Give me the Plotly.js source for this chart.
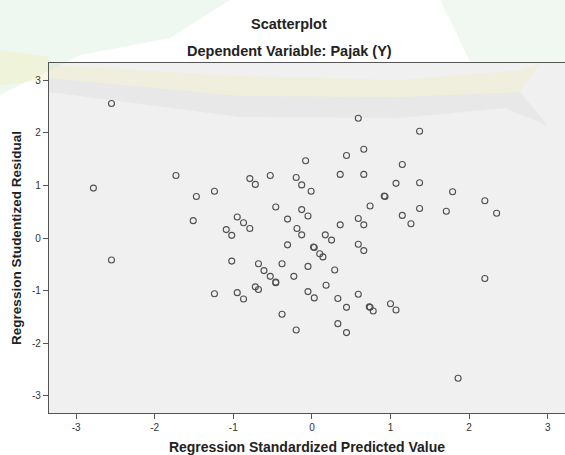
<!DOCTYPE html>
<html>
<head>
<meta charset="utf-8">
<script src="https://cdn.plot.ly/plotly-3.0.1.min.js"></script>
<style>
  html, body { margin: 0; padding: 0; background: #ffffff; }
  #chart { width: 565px; height: 455px; }
</style>
</head>
<body>
<div id="chart"></div>
<script>
// Regression Standardized Predicted Value
const predicted = [
  -2.55, -2.78, -1.73, -1.47, -1.24, -1.51, -0.95, -1.09, -1.02,
   0.59,  0.66,  0.44, -0.08,  1.15, -0.79, -0.72, -0.53, -0.20,
  -0.13, -0.01,  0.36,  0.66,  1.07,  0.92,  0.74, -0.46, -0.13,
  -0.05, -0.31, -0.19, -0.13,  0.36,  0.59,  0.66,  0.17,  0.25,
  -0.87, -0.79,  1.15,  1.37,  1.37,  1.79,  2.20,  2.35,  1.37,
   1.71,  1.26,  2.20,  1.86, -2.55, -1.02, -1.24, -0.95, -0.31,
   0.03,  0.10,  0.14,  0.59,  0.66, -0.68, -0.61, -0.53, -0.46,
  -0.38, -0.23, -0.05,  0.29,  0.18, -0.05,  0.03,  0.33,  0.59,
   0.44,  0.74,  0.78,  1.00,  1.07, -0.72, -0.68, -0.87, -0.38,
  -0.20,  0.33,  0.44,  0.93,  0.02, -0.46,  0.73
];
// Regression Studentized Residual
const residual = [
   2.56,  0.95,  1.19,  0.79,  0.89,  0.33,  0.40,  0.16,  0.05,
   2.28,  1.69,  1.57,  1.47,  1.40,  1.13,  1.02,  1.19,  1.15,
   1.01,  0.89,  1.21,  1.21,  1.04,  0.80,  0.61,  0.59,  0.54,
   0.42,  0.36,  0.18,  0.06,  0.25,  0.37,  0.25,  0.06, -0.04,
   0.29,  0.18,  0.43,  2.03,  1.05,  0.88,  0.71,  0.47,  0.56,
   0.51,  0.27, -0.77, -2.67, -0.42, -0.44, -1.06, -1.04, -0.13,
  -0.18, -0.30, -0.36, -0.12, -0.24, -0.49, -0.62, -0.73, -0.85,
  -0.49, -0.73, -0.54, -0.61, -0.90, -1.02, -1.14, -1.15, -1.07,
  -1.32, -1.32, -1.39, -1.25, -1.37, -0.93, -0.98, -1.16, -1.45,
  -1.75, -1.63, -1.80,  0.79, -0.17, -0.84, -1.31
];
const xTickVals = [-3, -2, -1, 0, 1, 2, 3];
const xTickText = ["-3", "-2", "-1", "0", "1", "2", "3"];
const yTickVals = [-3, -2, -1, 0, 1, 2, 3];
const yTickText = ["-3", "-2", "-1", "0", "1", "2", "3"];

const W = 565, H = 455;
const M = { l: 49, r: 0, t: 63, b: 42 };
const PW = W - M.l - M.r, PH = H - M.t - M.b;
const fx = p => (p - M.l) / PW;
const fy = p => 1 - (p - M.t) / PH;
const path = pts => 'M ' + pts.map(p => fx(p[0]).toFixed(4) + ',' + fy(p[1]).toFixed(4)).join(' L ') + ' Z';

const font = '"Liberation Sans", Arial, sans-serif';

const shapes = [
  // faint tints of the background logo
  { type: 'path', xref: 'paper', yref: 'paper', layer: 'below', line: { width: 0 },
    fillcolor: 'rgba(200,228,205,0.30)',
    path: path([[0,0],[230,0],[170,38],[80,55],[0,95]]) },
  { type: 'path', xref: 'paper', yref: 'paper', layer: 'below', line: { width: 0 },
    fillcolor: 'rgba(205,230,210,0.28)',
    path: path([[440,0],[565,0],[565,62],[470,62],[455,30]]) },
  { type: 'path', xref: 'paper', yref: 'paper', layer: 'below', line: { width: 0 },
    fillcolor: 'rgba(240,236,175,0.35)',
    path: path([[0,50],[49,57],[49,80],[0,85]]) },
  { type: 'path', xref: 'paper', yref: 'paper', layer: 'below', line: { width: 0 },
    fillcolor: 'rgba(242,238,185,0.35)',
    path: path([[49,65],[240,76],[400,80],[520,70],[540,64],[520,92],[400,97],[240,96],[49,78]]) },
  { type: 'path', xref: 'paper', yref: 'paper', layer: 'below', line: { width: 0 },
    fillcolor: 'rgba(200,200,200,0.18)',
    path: path([[49,78],[240,96],[400,97],[520,92],[548,126],[505,108],[400,118],[240,117],[49,92]]) }
];

const annotations = [
  { text: 'Scatterplot', xref: 'paper', yref: 'paper', x: fx(289), y: fy(24),
    xanchor: 'center', yanchor: 'middle', showarrow: false,
    font: { family: font, size: 14.5, color: '#222222', weight: 'bold' } },
  { text: 'Dependent Variable: Pajak (Y)', xref: 'paper', yref: 'paper', x: fx(289), y: fy(51),
    xanchor: 'center', yanchor: 'middle', showarrow: false,
    font: { family: font, size: 14.5, color: '#222222', weight: 'bold' } }
];

const trace = {
  type: 'scatter', mode: 'markers', x: predicted, y: residual,
  marker: { symbol: 'circle-open', size: 6, color: '#505050', line: { width: 1.1, color: '#505050' } },
  hoverinfo: 'x+y', showlegend: false
};

const layout = {
  width: W, height: H, margin: M,
  paper_bgcolor: '#ffffff', plot_bgcolor: '#f0f0f0',
  font: { family: font, size: 10, color: '#333333' },
  showlegend: false,
  xaxis: {
    range: [-3.345, 3.22], tickvals: xTickVals, ticktext: xTickText,
    showgrid: false, zeroline: false, showline: true, mirror: true,
    linecolor: '#555555', linewidth: 1.2, ticks: 'outside', ticklen: 5, tickcolor: '#555555',
    tickfont: { family: font, size: 10, color: '#333333' },
    title: { text: 'Regression Standardized Predicted Value', standoff: 13,
             font: { family: font, size: 14, color: '#222222', weight: 'bold' } }
  },
  yaxis: {
    range: [-3.33, 3.33], tickvals: yTickVals, ticktext: yTickText,
    showgrid: false, zeroline: false, showline: true, mirror: false,
    linecolor: '#555555', linewidth: 1.2, ticks: 'outside', ticklen: 5, tickcolor: '#555555',
    tickfont: { family: font, size: 10, color: '#333333' },
    title: { text: 'Regression Studentized Residual', standoff: 7,
             font: { family: font, size: 13.5, color: '#222222', weight: 'bold' } }
  },
  shapes: shapes,
  annotations: annotations
};

Plotly.newPlot('chart', [trace], layout, { displayModeBar: false, staticPlot: true });
</script>
</body>
</html>
